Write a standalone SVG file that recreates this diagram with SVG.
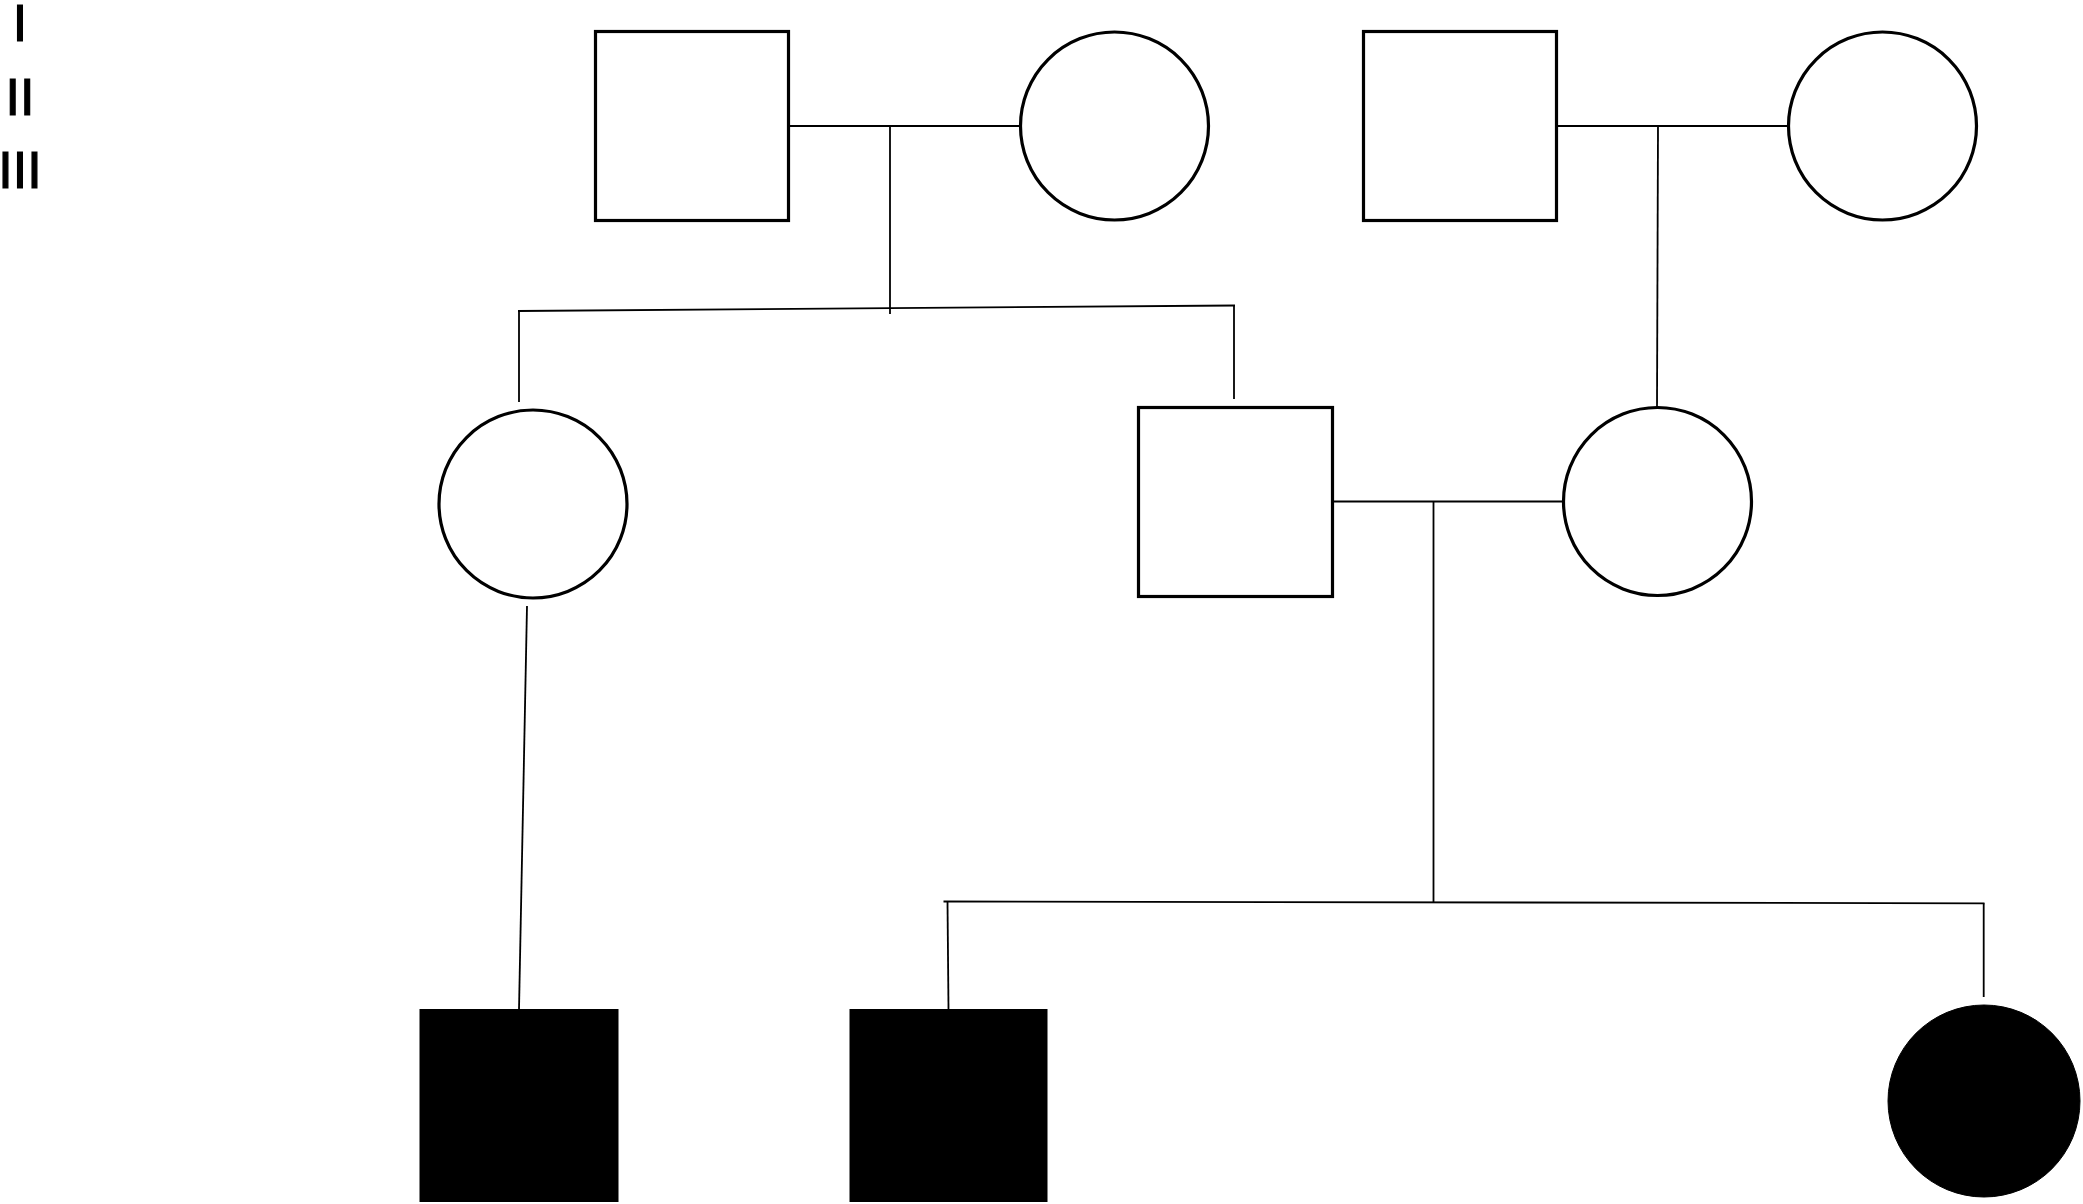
<svg xmlns="http://www.w3.org/2000/svg" width="2083" height="1204" viewBox="0 0 2083 1204">
<style>
.gen{font-family:"Liberation Sans",Arial,sans-serif;font-size:52px;fill:#000;stroke:#000;stroke-width:1.2;text-anchor:middle}
.open{fill:#fff;stroke:#000;stroke-width:3.2}
.aff{fill:#000;stroke:#000;stroke-width:1}
.conn line{stroke:#000;stroke-width:1.8;fill:none}
</style>
<rect width="2083" height="1204" fill="#fff"/>
<g id="labels">
<text class="gen" x="20" y="40.5">I</text>
<text class="gen" x="20" y="115">II</text>
<text class="gen" x="20" y="188">III</text>
</g>
<g class="conn" id="connectors">
<line x1="790" y1="126" x2="1020" y2="126"/>
<line x1="890" y1="126" x2="890" y2="314"/>
<line x1="518" y1="311" x2="1235" y2="305.5"/>
<line x1="519" y1="311" x2="519" y2="402"/>
<line x1="1234" y1="305.5" x2="1234" y2="399"/>
<line x1="1557" y1="126" x2="1788" y2="126"/>
<line x1="1658" y1="126" x2="1657" y2="407"/>
<line x1="1333" y1="501.5" x2="1563" y2="501.5"/>
<line x1="1433.5" y1="501.5" x2="1433.5" y2="903"/>
<line x1="943.5" y1="901.5" x2="1984.5" y2="903.3"/>
<line x1="947.5" y1="902" x2="948.5" y2="1009"/>
<line x1="1983.7" y1="903.3" x2="1983.7" y2="997"/>
<line x1="527" y1="606" x2="519" y2="1010"/>
</g>
<g id="n-I1"><rect class="open" x="595.5" y="31.5" width="193" height="189"/></g>
<g id="n-I2"><circle class="open" cx="1114.5" cy="126" r="94"/></g>
<g id="n-I3"><rect class="open" x="1363.5" y="31.5" width="193" height="189"/></g>
<g id="n-I4"><circle class="open" cx="1882.5" cy="126" r="94"/></g>
<g id="n-II1"><circle class="open" cx="533" cy="504" r="94"/></g>
<g id="n-II2"><rect class="open" x="1138.5" y="407.5" width="194" height="189"/></g>
<g id="n-II3"><circle class="open" cx="1657.5" cy="501.5" r="94"/></g>
<g id="n-III1"><rect class="aff" x="420" y="1009.5" width="198" height="192"/></g>
<g id="n-III2"><rect class="aff" x="850" y="1009.5" width="197" height="192"/></g>
<g id="n-III3"><circle class="aff" cx="1984" cy="1101" r="96"/></g>
</svg>
